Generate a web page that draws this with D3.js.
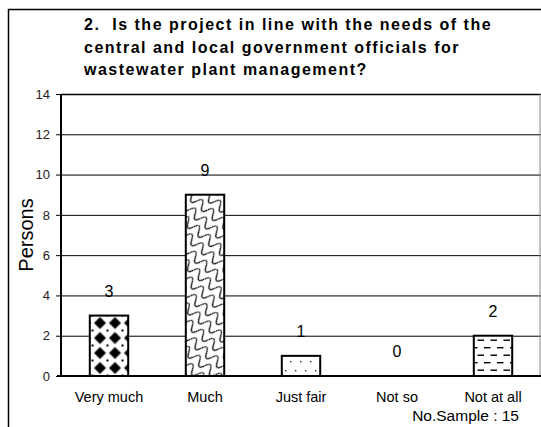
<!DOCTYPE html>
<html>
<head>
<meta charset="utf-8">
<script src="https://cdn.jsdelivr.net/npm/d3@7"></script>
<style>
  body { margin: 0; background: #fff; }
  svg { display: block; font-family: Arial, "Liberation Sans", sans-serif; }
</style>
</head>
<body>
<div id="chart"></div>
<script>
// survey question 2 - answers in persons
var titleLines = [
  "2.  Is the project in line with the needs of the",
  "central and local government officials for",
  "wastewater plant management?"
];
var categories = ["Very much", "Much", "Just fair", "Not so", "Not at all"];
var persons = [3, 9, 1, 0, 2];
var fills = ["url(#pDiamond)", "url(#pScale)", "url(#pDots)", "#fff", "url(#pDash)"];
var yTicks = [0, 2, 4, 6, 8, 10, 12, 14];
var sampleNote = "No.Sample : 15";

var width = 541, height = 427;
var plot = { left: 61, right: 541, top: 94, bottom: 376 };

var svg = d3.select("#chart").append("svg")
    .attr("width", width)
    .attr("height", height);

// ---- patterns
var defs = svg.append("defs");

var pd = defs.append("pattern").attr("id", "pDiamond")
    .attr("patternUnits", "userSpaceOnUse")
    .attr("x", 2.5).attr("y", 0.5)
    .attr("width", 15).attr("height", 15);
pd.append("rect").attr("width", 15).attr("height", 15).attr("fill", "#fff");
pd.append("path").attr("d", "M7.5,1.5 L13.5,7.5 L7.5,13.5 L1.5,7.5 Z").attr("fill", "#000");
pd.append("path").attr("d", "M0,0h1v1h-1zM14,0h1v1h-1zM0,14h1v1h-1zM14,14h1v1h-1z").attr("fill", "#000");

var ps = defs.append("pattern").attr("id", "pScale")
    .attr("patternUnits", "userSpaceOnUse")
    .attr("width", 14).attr("height", 11)
    .attr("patternTransform", "rotate(40)");
ps.append("rect").attr("width", 14).attr("height", 11).attr("fill", "#fff");
ps.append("path")
    .attr("d", "M0,5.5 C2.5,-0.5 4.5,-0.5 7,5.5 C9.5,11.5 11.5,11.5 14,5.5")
    .attr("fill", "none").attr("stroke", "#000").attr("stroke-width", 1.2);

var pdots = defs.append("pattern").attr("id", "pDots")
    .attr("patternUnits", "userSpaceOnUse")
    .attr("x", 0).attr("y", 1)
    .attr("width", 10).attr("height", 18);
pdots.append("rect").attr("width", 10).attr("height", 18).attr("fill", "#fff");
pdots.append("rect").attr("x", 0).attr("y", 0).attr("width", 1.4).attr("height", 1.4).attr("fill", "#333");
pdots.append("rect").attr("x", 5).attr("y", 9).attr("width", 1.4).attr("height", 1.4).attr("fill", "#333");

var pdash = defs.append("pattern").attr("id", "pDash")
    .attr("patternUnits", "userSpaceOnUse")
    .attr("x", 3).attr("y", 2)
    .attr("width", 13).attr("height", 15);
pdash.append("rect").attr("width", 13).attr("height", 15).attr("fill", "#fff");
pdash.append("rect").attr("x", 0).attr("y", 0).attr("width", 6.5).attr("height", 1.4).attr("fill", "#000");
pdash.append("rect").attr("x", 6.5).attr("y", 7.5).attr("width", 6.5).attr("height", 1.4).attr("fill", "#000");

// ---- outer frame (only top and left show in the crop)
svg.append("path")
    .attr("d", "M8.5,427 V9.5 H541")
    .attr("fill", "none").attr("stroke", "#000").attr("stroke-width", 1.5);

// ---- title
svg.append("text")
    .attr("font-size", 16).attr("font-weight", "bold")
    .style("letter-spacing", "1.5px")
    .style("white-space", "pre")
    .selectAll("tspan").data(titleLines).enter().append("tspan")
    .attr("x", 84)
    .attr("y", function(d, i) { return 30 + i * 22.5; })
    .text(function(d) { return d; });

// ---- scales
var x = d3.scaleBand().domain(categories)
    .range([plot.left, plot.right])
    .paddingInner(0.6).paddingOuter(0.3);
var y = d3.scaleLinear().domain([0, 14]).range([plot.bottom, plot.top]);

// gridlines
svg.append("g").selectAll("line")
    .data(yTicks.filter(function(d) { return d > 0 && d < 14; }))
    .enter().append("line")
    .attr("x1", plot.left).attr("x2", plot.right)
    .attr("y1", function(d) { return y(d) + 0.5; })
    .attr("y2", function(d) { return y(d) + 0.5; })
    .attr("stroke", "#000").attr("stroke-width", 1);

// plot frame: top black, right grey
svg.append("line")
    .attr("x1", plot.left).attr("x2", plot.right)
    .attr("y1", y(14) + 0.5).attr("y2", y(14) + 0.5)
    .attr("stroke", "#000").attr("stroke-width", 1.5);
svg.append("line")
    .attr("x1", plot.right - 1).attr("x2", plot.right - 1)
    .attr("y1", y(14)).attr("y2", y(0))
    .attr("stroke", "#888").attr("stroke-width", 1);

// bars
svg.append("g").selectAll("rect")
    .data(persons)
    .enter().append("rect")
    .attr("x", function(d, i) { return x(categories[i]); })
    .attr("y", function(d) { return y(d); })
    .attr("width", x.bandwidth())
    .attr("height", function(d) { return y(0) - y(d); })
    .attr("fill", function(d, i) { return fills[i]; })
    .attr("stroke", "#000")
    .attr("stroke-width", function(d) { return d > 0 ? 2 : 0; });

// value labels
svg.append("g").selectAll("text")
    .data(persons)
    .enter().append("text")
    .attr("x", function(d, i) { return x(categories[i]) + x.bandwidth() / 2; })
    .attr("y", function(d) { return y(d) - 19; })
    .attr("text-anchor", "middle")
    .attr("font-size", 16)
    .text(function(d) { return d; });

// y axis
var yAxis = svg.append("g")
    .attr("transform", "translate(" + plot.left + ",0)")
    .call(d3.axisLeft(y).tickValues(yTicks).tickSize(5).tickPadding(6));
yAxis.select(".domain").remove();
yAxis.selectAll("line").attr("stroke", "#000");
yAxis.selectAll("text").attr("font-size", 13).attr("fill", "#222")
    .attr("font-family", "Arial, 'Liberation Sans', sans-serif");
svg.append("line")
    .attr("x1", plot.left).attr("x2", plot.left)
    .attr("y1", plot.top).attr("y2", plot.bottom + 1)
    .attr("stroke", "#000").attr("stroke-width", 2);

// x axis
var xAxis = svg.append("g")
    .attr("transform", "translate(0," + plot.bottom + ")")
    .call(d3.axisBottom(x).tickSize(0).tickPadding(16));
xAxis.select(".domain").remove();
xAxis.selectAll("text").attr("font-size", 14.5).attr("fill", "#000")
    .attr("font-family", "Arial, 'Liberation Sans', sans-serif");
svg.append("line")
    .attr("x1", plot.left - 4).attr("x2", plot.right)
    .attr("y1", plot.bottom).attr("y2", plot.bottom)
    .attr("stroke", "#000").attr("stroke-width", 2);

// y title
svg.append("text")
    .attr("transform", "translate(33,235) rotate(-90)")
    .attr("text-anchor", "middle")
    .attr("font-size", 20)
    .text("Persons");

// sample size note
svg.append("text")
    .attr("x", 519).attr("y", 421)
    .attr("text-anchor", "end")
    .attr("font-size", 15.5)
    .text(sampleNote);
</script>
</body>
</html>
